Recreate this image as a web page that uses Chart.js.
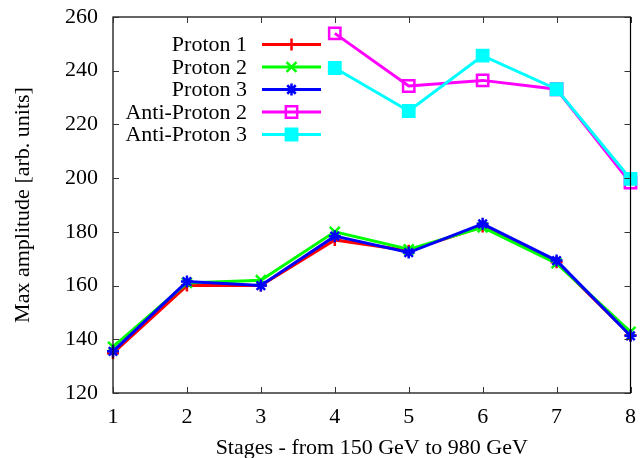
<!DOCTYPE html>
<html>
<head>
<meta charset="utf-8">
<script src="https://cdn.jsdelivr.net/npm/chart.js@4"></script>
<style>
  html, body { margin: 0; padding: 0; background: #fff; }
  #wrap { width: 641px; height: 458px; }
</style>
</head>
<body>
<div id="wrap"><canvas id="c" width="641" height="458"></canvas></div>
<script>
// values
const stages = ["1", "2", "3", "4", "5", "6", "7", "8"];
const proton1 = [134.8, 160, 160, 177, 173, 182, 168.7, 141.5];
const proton2 = [137.2, 161, 162, 180, 173.5, 181.7, 168.3, 142.8];
const proton3 = [135.5, 161.5, 160, 178.4, 172.3, 183, 169.3, 141.3];
const antiProton2 = [null, null, null, 253.9, 234.3, 236.4, 233.1, 198.3];
const antiProton3 = [null, null, null, 241, 225, 245.6, 233.1, 199.7];

const FONT = "'Liberation Serif', 'Times New Roman', serif";

function series(label, data, color, style, radius, filled, order) {
	return {
		label,
		data,
		borderColor: color,
		backgroundColor: filled ? color : "rgba(0,0,0,0)",
		borderWidth: 3,
		pointStyle: style,
		pointRadius: radius,
		pointBorderWidth: 2.5,
		pointBorderColor: color,
		pointBackgroundColor: filled ? color : "rgba(0,0,0,0)",
		tension: 0,
		spanGaps: false,
		clip: false,
		order,
	};
}

// gnuplot style frame with inward ticks on all four sides
const framePlugin = {
	id: "frame",
	afterDatasetsDraw(chart) {
		const { ctx, chartArea: a, scales } = chart;
		ctx.save();
		ctx.strokeStyle = "#000";
		ctx.lineWidth = 1.2;
		ctx.strokeRect(a.left, a.top, a.right - a.left, a.bottom - a.top);
		ctx.strokeStyle = "#333";
		ctx.lineWidth = 1;
		const len = 6;
		ctx.beginPath();
		scales.y.ticks.forEach((t) => {
			const y = Math.round(scales.y.getPixelForValue(t.value)) + 0.5;
			ctx.moveTo(a.left, y); ctx.lineTo(a.left + len, y);
			ctx.moveTo(a.right, y); ctx.lineTo(a.right - len, y);
		});
		stages.forEach((s, i) => {
			const x = Math.round(scales.x.getPixelForValue(i)) + 0.5;
			ctx.moveTo(x, a.bottom); ctx.lineTo(x, a.bottom - len);
			ctx.moveTo(x, a.top); ctx.lineTo(x, a.top + len);
		});
		ctx.stroke();
		ctx.restore();
	},
};

// key: right aligned text, then a line sample with the marker
const keyPlugin = {
	id: "key",
	afterDatasetsDraw(chart) {
		const { ctx } = chart;
		const textRight = 247, x0 = 262, x1 = 321, top = 44.5, step = 22.5;
		ctx.save();
		ctx.font = "22px " + FONT;
		ctx.textAlign = "right";
		ctx.textBaseline = "middle";
		chart.data.datasets.forEach((ds, i) => {
			const y = top + i * step;
			ctx.fillStyle = "#000";
			ctx.fillText(ds.label, textRight, y + 1);
			ctx.strokeStyle = ds.borderColor;
			ctx.lineWidth = ds.borderWidth;
			ctx.beginPath();
			ctx.moveTo(x0, y); ctx.lineTo(x1, y);
			ctx.stroke();
			ctx.fillStyle = ds.pointBackgroundColor;
			ctx.strokeStyle = ds.pointBorderColor;
			ctx.lineWidth = ds.pointBorderWidth;
			Chart.helpers.drawPoint(ctx, { pointStyle: ds.pointStyle, radius: ds.pointRadius, rotation: 0, borderWidth: ds.pointBorderWidth }, (x0 + x1) / 2, y);
		});
		ctx.restore();
	},
};

new Chart(document.getElementById("c"), {
	type: "line",
	data: {
		labels: stages,
		datasets: [
			series("Proton 1", proton1, "#ff0000", "cross", 6, false, 5),
			series("Proton 2", proton2, "#00ff00", "crossRot", 7, false, 4),
			series("Proton 3", proton3, "#0000ff", "star", 6, false, 3),
			series("Anti-Proton 2", antiProton2, "#ff00ff", "rect", 8, false, 2),
			series("Anti-Proton 3", antiProton3, "#00ffff", "rect", 8, true, 1),
		],
	},
	options: {
		responsive: false,
		animation: false,
		layout: { padding: { top: 17, right: 9, left: 0, bottom: 0 } },
		plugins: {
			legend: { display: false },
			tooltip: { enabled: false },
		},
		scales: {
			x: {
				grid: { display: false, drawTicks: false },
				border: { display: false },
				ticks: { color: "#000", font: { family: FONT, size: 22 }, padding: 11, maxRotation: 0 },
				title: {
					display: true,
					text: "Stages - from 150 GeV to 980 GeV",
					color: "#000",
					font: { family: FONT, size: 22, lineHeight: 0.85 },
					padding: { top: 0, bottom: 0 },
				},
				afterFit(scale) {
					scale.height = 65;
					scale.paddingLeft = 0;
					scale.paddingRight = 0;
				},
			},
			y: {
				min: 120,
				max: 260,
				grid: { display: false, drawTicks: false },
				border: { display: false },
				ticks: { stepSize: 20, color: "#000", font: { family: FONT, size: 22 }, padding: 15 },
				title: {
					display: true,
					text: "Max amplitude [arb. units]",
					color: "#000",
					font: { family: FONT, size: 22 },
					padding: { top: 10, bottom: 0 },
				},
				afterFit(scale) {
					scale.width = 113;
					scale.paddingTop = 0;
					scale.paddingBottom = 0;
				},
			},
		},
	},
	plugins: [framePlugin, keyPlugin],
});
</script>
</body>
</html>
